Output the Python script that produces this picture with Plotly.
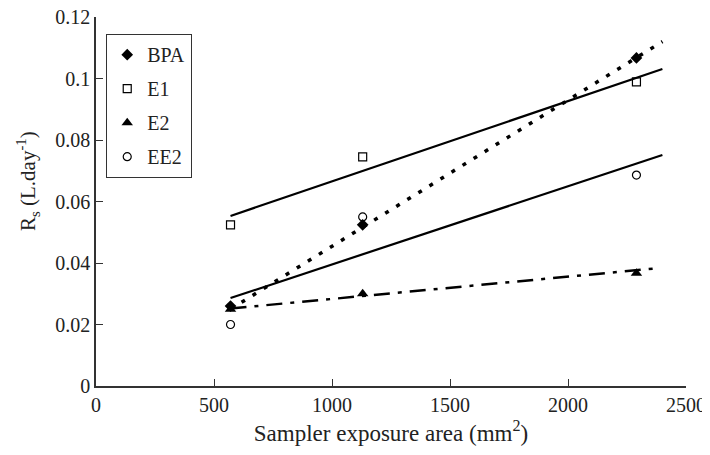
import plotly.graph_objects as go

# Data
area = [570, 1130, 2290]
bpa = [0.026, 0.0524, 0.1067]
e1 = [0.0524, 0.0745, 0.0989]
e2 = [0.025, 0.030, 0.0367]
ee2 = [0.020, 0.055, 0.0686]

# Regression line endpoints
fit_x = [570, 2400]
bpa_fit = [0.025, 0.112]
e1_fit = [0.0553, 0.1031]
e2_fit = [0.0252, 0.0383]
ee2_fit = [0.0286, 0.0751]
e2_fit_x = [570, 2380]

x_ticks = [0, 500, 1000, 1500, 2000, 2500]
y_ticks = [0, 0.02, 0.04, 0.06, 0.08, 0.1, 0.12]
y_tick_text = ["0", "0.02", "0.04", "0.06", "0.08", "0.1", "0.12"]

FONT = "Liberation Serif"

fig = go.Figure()

# fit lines
fig.add_trace(go.Scatter(x=fit_x, y=bpa_fit, mode="lines", showlegend=False,
                         line=dict(color="black", width=3.5, dash="4px,9px")))
fig.add_trace(go.Scatter(x=fit_x, y=e1_fit, mode="lines", showlegend=False,
                         line=dict(color="black", width=2.2)))
fig.add_trace(go.Scatter(x=fit_x, y=ee2_fit, mode="lines", showlegend=False,
                         line=dict(color="black", width=2.2)))
fig.add_trace(go.Scatter(x=e2_fit_x, y=e2_fit, mode="lines", showlegend=False,
                         line=dict(color="black", width=2.5, dash="16px,8px,4px,8px")))

# markers
fig.add_trace(go.Scatter(x=area, y=bpa, mode="markers", name="BPA", legendgroup="a",
                         marker=dict(symbol="diamond", color="black", size=9)))
fig.add_trace(go.Scatter(x=area, y=e1, mode="markers", name="E1", legendgroup="b",
                         marker=dict(symbol="square-open", color="black", size=8,
                                     line=dict(width=1.2))))
fig.add_trace(go.Scatter(x=area, y=e2, mode="markers", name="E2", legendgroup="c",
                         marker=dict(symbol="triangle-up", color="black", size=10)))
fig.add_trace(go.Scatter(x=area, y=ee2, mode="markers", name="EE2", legendgroup="d",
                         marker=dict(symbol="circle-open", color="black", size=8,
                                     line=dict(width=1.2))))

# page body has an 8px default margin, so the figure is sized/offset to compensate
fig.update_layout(
    width=702, height=447,
    margin=dict(l=88, r=24, t=9, b=69, autoexpand=False),
    paper_bgcolor="white", plot_bgcolor="white",
    font=dict(family=FONT, size=20, color="#222"),
    showlegend=True,
    legend=dict(x=0.017, y=0.954, xanchor="left", yanchor="top",
                bordercolor="#333", borderwidth=1.2, bgcolor="white",
                font=dict(family=FONT, size=20), tracegroupgap=5,
                itemwidth=30),
    xaxis=dict(range=[0, 2500], tickvals=x_ticks, ticks="inside", ticklen=7,
               tickcolor="#333", showline=True, linecolor="#333", linewidth=1.5,
               showgrid=False, zeroline=False, automargin=False,
               ticklabeloverflow="allow",
               title=dict(text="Sampler exposure area (mm<sup>2</sup>)",
                          font=dict(size=23), standoff=10)),
    yaxis=dict(range=[0, 0.12], tickvals=y_ticks, ticktext=y_tick_text,
               ticks="inside", ticklen=7, tickcolor="#333",
               showline=True, linecolor="#333", linewidth=1.5,
               showgrid=False, zeroline=False, automargin=False,
               ticklabeloverflow="allow"),
    annotations=[dict(text="R<sub>s</sub> (L.day<sup>-1</sup>)", textangle=-90,
                      xref="paper", yref="paper", x=-0.115, y=0.556,
                      xanchor="center", yanchor="middle", showarrow=False,
                      font=dict(family=FONT, size=21, color="#222"))],
)

fig.write_html("out.html")
